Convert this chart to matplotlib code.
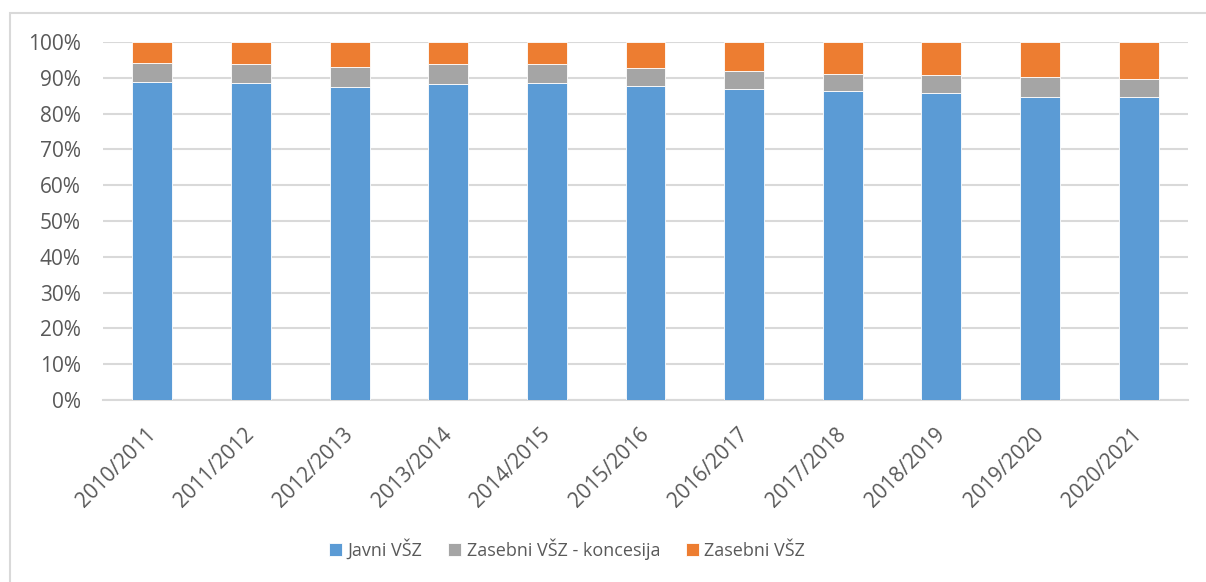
import matplotlib
matplotlib.use("Agg")
import matplotlib.pyplot as plt
import matplotlib.transforms as mtransforms
from matplotlib.patches import Rectangle
import numpy as np

categories = ["2010/2011", "2011/2012", "2012/2013", "2013/2014", "2014/2015",
              "2015/2016", "2016/2017", "2017/2018", "2018/2019", "2019/2020", "2020/2021"]
javni = [88.7, 88.5, 87.3, 88.2, 88.5, 87.8, 86.8, 86.2, 85.8, 84.7, 84.5]
koncesija = [5.3, 5.3, 5.6, 5.6, 5.3, 5.0, 5.0, 4.9, 5.0, 5.4, 5.2]
zasebni = [round(100 - a - b, 1) for a, b in zip(javni, koncesija)]
series_names = ["Javni VŠZ", "Zasebni VŠZ - koncesija", "Zasebni VŠZ"]
colors = ["#5B9BD5", "#A5A5A5", "#ED7D31"]

plt.rcParams['font.family'] = ['Open Sans', 'DejaVu Sans']
txt = "#595959"

fig = plt.figure(figsize=(12.06, 5.82), dpi=100)
fig.patches.append(Rectangle((10/1206, -0.1), 1.2, 1 - 13/582 + 0.1, transform=fig.transFigure,
                             fill=False, edgecolor="#D9D9D9", linewidth=1.5, zorder=0))
ax = fig.add_axes([103/1206, 1 - 400/582, (1188 - 103)/1206, (400 - 42)/582])

x = np.arange(len(categories))
w = 0.405
bottom = np.zeros(len(categories))
for vals, name, c in zip([javni, koncesija, zasebni], series_names, colors):
    ax.bar(x, vals, w, bottom=bottom, color=c, label=name, edgecolor="white", linewidth=0.6, zorder=3)
    bottom += np.array(vals)

ax.set_xlim(-0.5, len(categories) - 0.5)
ax.set_ylim(0, 100)
ax.set_yticks(np.arange(0, 101, 10))
ax.set_yticklabels([f"{v}%" for v in range(0, 101, 10)], fontsize=15, color=txt)
ax.set_xticks(x)
ax.set_xticklabels(categories, rotation=45, ha="right", rotation_mode="anchor", fontsize=15, color=txt)
ax.tick_params(axis="both", length=0)
ax.tick_params(axis="y", pad=16)
ax.tick_params(axis="x", pad=12)
shift = mtransforms.ScaledTranslation(-5/72, -5/72, fig.dpi_scale_trans)
for lab in ax.get_xticklabels():
    lab.set_transform(lab.get_transform() + shift)
ax.grid(axis="y", color="#D9D9D9", linewidth=1.5, zorder=0)
for s in ["top", "right", "left"]:
    ax.spines[s].set_visible(False)
ax.spines["bottom"].set_color("#D9D9D9")
ax.spines["bottom"].set_linewidth(1.5)

leg = fig.legend(loc="center", bbox_to_anchor=(567/1206, 1 - 549/582), ncol=3, frameon=False,
                 fontsize=13, handlelength=0.75, handleheight=0.75, handletextpad=0.3, columnspacing=1.4)
for t in leg.get_texts():
    t.set_color(txt)

fig.savefig("out.png", dpi=100)
